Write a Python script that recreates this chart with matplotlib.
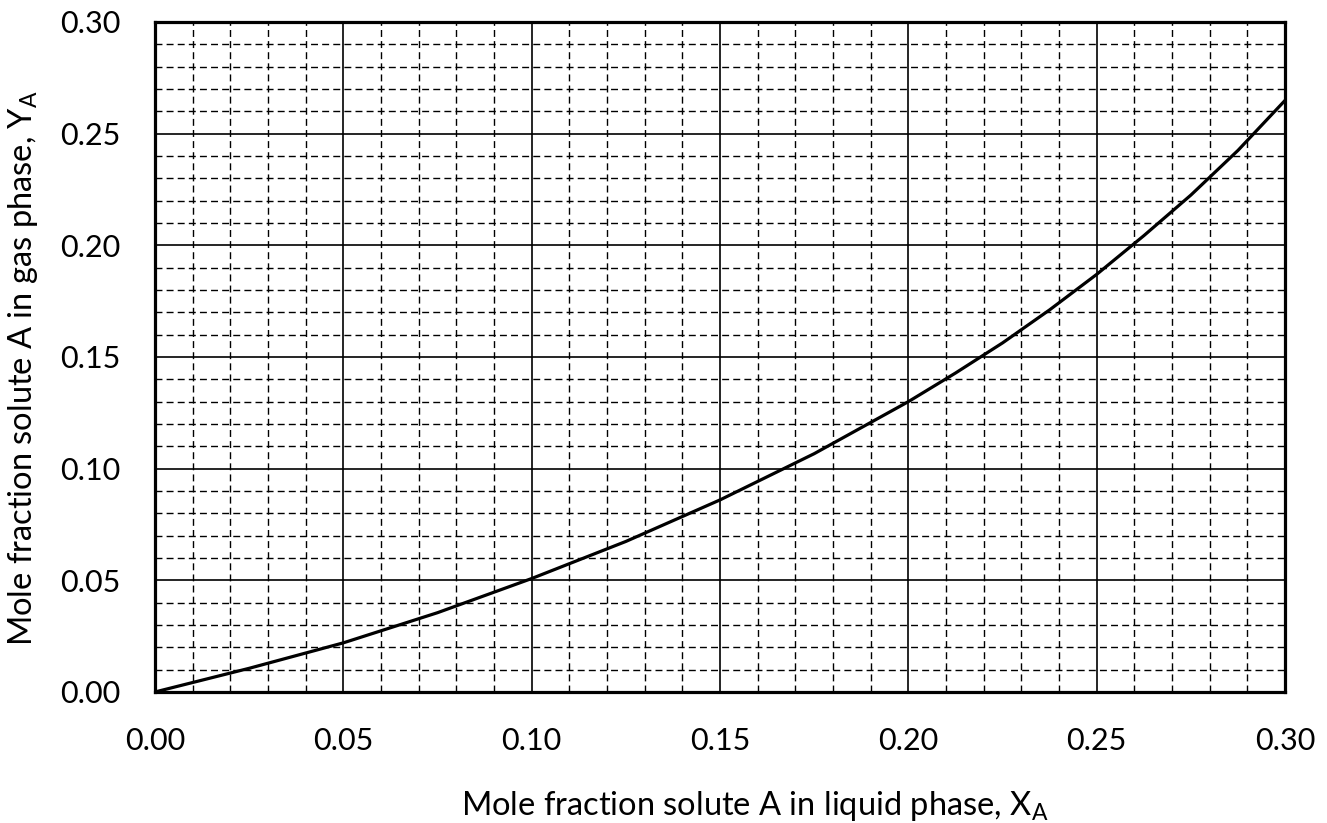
import numpy as np
import matplotlib.pyplot as plt
from matplotlib.ticker import MultipleLocator

# equilibrium curve
x_liq = [0, 0.025, 0.05, 0.075, 0.10, 0.125, 0.15, 0.175, 0.20,
         0.2125, 0.225, 0.2375, 0.25, 0.2625, 0.275, 0.2875, 0.30]
y_gas = [0, 0.0106, 0.0220, 0.0355, 0.0508, 0.0674, 0.0860, 0.1067, 0.1300,
         0.1428, 0.1563, 0.1711, 0.1870, 0.2043, 0.2225, 0.2425, 0.2649]

plt.rcParams['font.family'] = ['Lato', 'DejaVu Sans']

fig = plt.figure(figsize=(13.27, 8.23), dpi=100)
ax = fig.add_axes([0.1168, 0.1592, 0.8516, 0.8141])

ax.plot(x_liq, y_gas, color='black', lw=2.3, zorder=3, solid_joinstyle='round')

ax.set_xlim(0, 0.30)
ax.set_ylim(0, 0.30)
ax.xaxis.set_major_locator(MultipleLocator(0.05))
ax.yaxis.set_major_locator(MultipleLocator(0.05))
ax.xaxis.set_minor_locator(MultipleLocator(0.01))
ax.yaxis.set_minor_locator(MultipleLocator(0.01))
ax.xaxis.set_major_formatter(lambda v, p: f"{v:.2f}")
ax.yaxis.set_major_formatter(lambda v, p: f"{v:.2f}")

ax.grid(which='major', color='black', lw=1.2, ls='-')
ax.grid(which='minor', color='black', lw=1.0, ls=(0, (5, 3)))
ax.set_axisbelow(True)

ax.tick_params(which='both', length=0, labelsize=22, pad=25)
for s in ax.spines.values():
    s.set_linewidth(2.3)

ax.set_xlabel(r'Mole fraction solute A in liquid phase, X$\mathregular{_A}$', fontsize=23.5)
ax.set_ylabel(r'Mole fraction solute A in gas phase, Y$\mathregular{_A}$', fontsize=23.5)
ax.xaxis.set_label_coords(0.531, -0.145)
ax.yaxis.set_label_coords(-0.102, 0.484)

plt.savefig('out.png', dpi=100)
